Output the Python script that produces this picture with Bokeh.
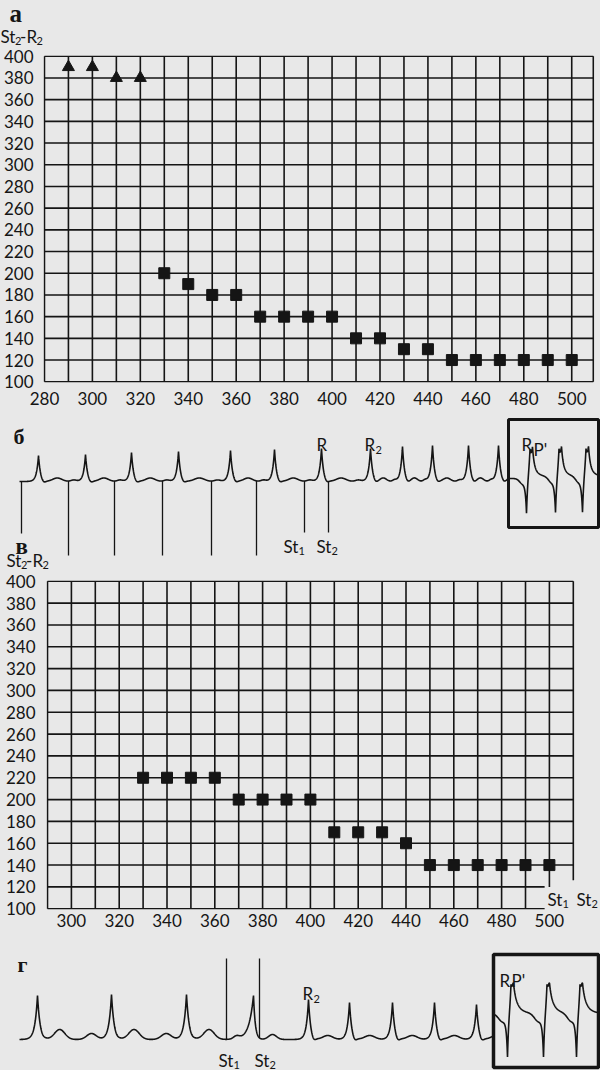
import numpy as np
from bokeh.plotting import figure
from bokeh.models import Range1d, FixedTicker, Label, GlobalInlineStyleSheet
from bokeh.layouts import column
from bokeh.embed import file_html
from bokeh.resources import INLINE

BG = "#e8e8e8"
INK = "#151515"
SANS = "Lato"
SERIF = "Liberation Serif"
W = 600

# ---------------- data ----------------
# panel а : St2-R2 versus St1-St2 (ms)
a_tri_x = [290, 300, 310, 320]
a_tri_y = [390, 390, 380, 380]
a_sq_x = [330, 340, 350, 360, 370, 380, 390, 400, 410, 420, 430, 440,
          450, 460, 470, 480, 490, 500]
a_sq_y = [200, 190, 180, 180, 160, 160, 160, 160, 140, 140, 130, 130,
          120, 120, 120, 120, 120, 120]
a_xticks = [280, 300, 320, 340, 360, 380, 400, 420, 440, 460, 480, 500]
a_xlim = [280, 509]

# panel в
v_sq_x = [330, 340, 350, 360, 370, 380, 390, 400, 410, 420, 430, 440,
          450, 460, 470, 480, 490, 500]
v_sq_y = [220, 220, 220, 220, 200, 200, 200, 200, 170, 170, 170, 160,
          140, 140, 140, 140, 140, 140]
v_xticks = [300, 320, 340, 360, 380, 400, 420, 440, 460, 480, 500]
v_xlim = [290, 510]

yticks = [100, 120, 140, 160, 180, 200, 220, 240, 260, 280, 300, 320,
          340, 360, 380, 400]
ylim = [100, 400]

# ECG б (time axis in px of the strip)
b_base = 481
b_R_x = [38, 85, 131, 178, 230, 274, 321, 370, 402, 432, 468, 498]
b_R_amp = [26, 27, 29, 30, 31, 32, 33, 33, 35, 36, 36, 36]
b_stim_x = [21, 68, 114, 162, 211, 256]
b_stim_end = [533, 555, 555, 555, 555, 555]
b_St_x = [304, 328]
b_box_base = 478
b_paced_x = [526, 555, 582]

# ECG г
g_base = 1039
g_R1_x = [37, 111, 186]
g_R1_amp = [44, 45, 45]
g_P1_amp = [6, 6, 0]
g_cap_x = 253
g_R2_x = [308, 349, 392, 434, 476]
g_R2_amp = [40, 37, 37, 37, 35]
g_St_x = [226, 259]
g_box_base = 1013
g_paced_x = [507, 543, 576]


# ---------------- helpers ----------------
def chart(H, xr, mb):
    left, right, top, bottom = mb
    p = figure(width=W, height=H, x_range=Range1d(*xr), y_range=Range1d(99.3, 400.7),
               output_backend="svg", toolbar_location=None,
               min_border_left=left, min_border_right=right,
               min_border_top=top, min_border_bottom=bottom,
               background_fill_color=BG, border_fill_color=BG)
    p.frame_align = False
    p.outline_line_color = None
    p.xgrid.visible = False
    p.ygrid.visible = False
    for ax in p.axis:
        ax.axis_line_color = None
        ax.major_tick_line_color = None
        ax.minor_tick_line_color = None
        ax.major_tick_in = 0
        ax.major_tick_out = 0
        ax.minor_tick_in = 0
        ax.minor_tick_out = 0
        ax.major_label_text_font = SANS
        ax.major_label_text_font_size = "17px"
        ax.major_label_text_color = INK
    p.yaxis.ticker = FixedTicker(ticks=yticks)
    return p


def conv(xr, top_page, H, mb):
    left, right, top, bottom = mb
    fw = W - left - right
    fh = H - top - bottom
    y0p = top_page + top

    def fx(px):
        return xr[0] + (px - left) * (xr[1] - xr[0]) / fw

    def fy(py):
        return 400.7 - (py - y0p) * (400.7 - 99.3) / fh
    return fx, fy


def txt(p, x, y, s, size, font=SANS, bold=False):
    p.add_layout(Label(x=x, y=y, text=s, text_font=font, text_font_size=f"{size}px",
                       text_font_style="bold" if bold else "normal", text_color=INK,
                       text_align="left", text_baseline="alphabetic"))


def pix_fig(ytop, ybot):
    p = figure(width=W, height=ybot - ytop, x_range=Range1d(0, 600),
               y_range=Range1d(ybot, ytop),
               x_axis_type=None, y_axis_type=None, output_backend="svg",
               toolbar_location=None, min_border_left=0, min_border_right=0,
               min_border_top=0, min_border_bottom=0,
               background_fill_color=BG, border_fill_color=BG)
    p.frame_align = False
    p.outline_line_color = None
    return p


def sinus(t, rx, ramp, w, s_amp, t_amp, t_pos, t_sig, p_amps, p_pos, p_sig):
    v = np.zeros_like(t)
    for i, (r, a) in enumerate(zip(rx, ramp)):
        rr = rx[i + 1] - r if i + 1 < len(rx) else r - rx[i - 1]
        v += a * np.exp(-np.abs(t - r) / w)
        v -= s_amp * np.exp(-0.5 * ((t - r - 5) / 2.0) ** 2)
        v += t_amp * np.exp(-0.5 * ((t - r - t_pos * rr) / (t_sig * rr)) ** 2)
        v += p_amps[i] * np.exp(-0.5 * ((t - r - p_pos * rr) / (p_sig * rr)) ** 2)
    return v


def paced(t, nx, pre, pre_c, pre_s, neg, wn, pos1, pos2, wp, tail, tau):
    v = np.zeros_like(t)
    for n in nx:
        v -= pre * np.exp(-0.5 * ((t - n + pre_c) / pre_s) ** 2)
        v -= neg * np.exp(-np.abs(t - n) / wn)
        v += pos1 * np.exp(-np.abs(t - n - 3.5) / wp)
        v += pos2 * np.exp(-np.abs(t - n - 6.0) / wp)
        d = t - n - 6.0
        v += tail * np.where(d >= 0, np.exp(-np.clip(d, 0, None) / tau),
                             np.exp(-(d / 2.0) ** 2))
    return v


def st_r(p, x, yb, size):
    # "St2-R2" composed of main text and subscripts
    txt(p, x, yb, "St", size)
    txt(p, x + 0.86 * size, yb + 4, "2", 11)
    txt(p, x + 0.86 * size + 5, yb, "-R", size)
    txt(p, x + 1.82 * size + 5, yb + 4, "2", 11)


# ---------------- header а ----------------
ph = pix_fig(0, 47)
txt(ph, 9, 13, "а", 25, SERIF, True)
st_r(ph, 0, 36, 17)

# ---------------- chart а ----------------
HA = 365
mbA = (43, 6, 8, 30)
xrA = (279.6, 509.5)
pa = chart(HA, xrA, mbA)
pa.xaxis.ticker = FixedTicker(ticks=a_xticks)
pa.xaxis.major_label_standoff = 9
pa.yaxis.major_label_standoff = 10

gx = list(range(a_xlim[0], 501, 10)) + [a_xlim[1]]
pa.segment(x0=gx, y0=[ylim[0]] * len(gx), x1=gx, y1=[ylim[1]] * len(gx),
           line_color=INK, line_width=1.6)
pa.segment(x0=[a_xlim[0]] * len(yticks), y0=yticks, x1=[a_xlim[1]] * len(yticks), y1=yticks,
           line_color=INK, line_width=1.6)
pa.scatter(a_tri_x, a_tri_y, marker="triangle", size=12, color=INK)
pa.scatter(a_sq_x, a_sq_y, marker="square", size=11, color=INK)

# ---------------- ECG б (+ header в) ----------------
pb = pix_fig(412, 571)
tb = np.arange(19, 508.01, 0.25)
vb = sinus(tb, b_R_x, b_R_amp, 2.0, 2.0, 3.5, 0.40, 0.10,
           [1.5] * len(b_R_x), 0.75, 0.06)
yb = b_base - vb
pb.line(tb, yb, line_color=INK, line_width=1.6)

tb2 = np.arange(508, 598.01, 0.25)
vb2 = paced(tb2, b_paced_x, 5, 4, 3, 37, 1.3, 25.9, 17.5, 1.8, 8, 10)
pb.line(tb2, b_box_base - vb2, line_color=INK, line_width=1.6)
pb.quad(left=[508], right=[598], top=[419], bottom=[527],
        fill_color=None, line_color=INK, line_width=3)

stim_top = list(np.interp(b_stim_x, tb, yb))
pb.segment(x0=b_stim_x, y0=stim_top, x1=b_stim_x, y1=b_stim_end,
           line_color=INK, line_width=1.3)
st_top = list(np.interp(b_St_x, tb, yb))
pb.segment(x0=b_St_x, y0=st_top, x1=b_St_x, y1=[532, 532],
           line_color=INK, line_width=1.3)

txt(pb, 13, 436, "б", 22, SERIF, True)
txt(pb, 316, 444, "R", 17)
txt(pb, 364, 444, "R", 17)
txt(pb, 375, 449, "2", 11)
txt(pb, 521, 444, "R", 17)
txt(pb, 533, 449, "P'", 17)
txt(pb, 283, 546, "St", 17)
txt(pb, 298, 550, "1", 11)
txt(pb, 316, 546, "St", 17)
txt(pb, 331, 550, "2", 11)
txt(pb, 15, 546, "в", 23, SERIF, True)
st_r(pb, 6, 560, 17)

# ---------------- chart в ----------------
HV = 364
mbV = (46, 0, 9, 26)
xrV = (289.58, 289.58 + 554 / 2.39)
pv = chart(HV, xrV, mbV)
pv.xaxis.ticker = FixedTicker(ticks=v_xticks)
pv.xaxis.major_label_standoff = 4
pv.yaxis.major_label_standoff = 11
fxV, fyV = conv(xrV, 571, HV, mbV)

vx_full = list(range(v_xlim[0], 491, 10))
pv.segment(x0=vx_full, y0=[ylim[0]] * len(vx_full), x1=vx_full, y1=[ylim[1]] * len(vx_full),
           line_color=INK, line_width=1.6)
pv.segment(x0=[500, v_xlim[1]], y0=[120, 126], x1=[500, v_xlim[1]], y1=[ylim[1], ylim[1]],
           line_color=INK, line_width=1.6)
hy_full = [y for y in yticks if y >= 140]
pv.segment(x0=[v_xlim[0]] * len(hy_full), y0=hy_full, x1=[v_xlim[1]] * len(hy_full), y1=hy_full,
           line_color=INK, line_width=1.6)
hy_short = [y for y in yticks if y < 140]
pv.segment(x0=[v_xlim[0]] * len(hy_short), y0=hy_short, x1=[498] * len(hy_short), y1=hy_short,
           line_color=INK, line_width=1.6)
pv.scatter(v_sq_x, v_sq_y, marker="square", size=11, color=INK)

txt(pv, fxV(547), fyV(899), "St", 17)
txt(pv, fxV(562), fyV(903), "1", 11)
txt(pv, fxV(576), fyV(899), "St", 17)
txt(pv, fxV(591), fyV(903), "2", 11)

# ---------------- ECG г ----------------
pg = pix_fig(935, 1070)
tg = np.arange(19, 493.01, 0.25)
vg = sinus(tg, g_R1_x, g_R1_amp, 2.6, 1.0, 10, 0.30, 0.07, g_P1_amp, 0.73, 0.065)
vg += 44 * np.where(tg < g_cap_x, np.exp(-(g_cap_x - tg) / 4.5), np.exp(-(tg - g_cap_x) / 1.8))
vg += 3 * np.exp(-0.5 * ((tg - 236) / 3) ** 2)
vg += 5 * np.exp(-0.5 * ((tg - 272) / 4) ** 2)
vg += sinus(tg, g_R2_x, g_R2_amp, 2.2, 3.0, 4, 0.47, 0.12, [0] * len(g_R2_x), 0.7, 0.1)
yg = g_base - vg
pg.line(tg, yg, line_color=INK, line_width=1.6)

tg2 = np.arange(494, 598.01, 0.25)
vg2 = paced(tg2, g_paced_x, 8, 5, 4, 44, 1.3, 27.8, 4.0, 1.8, 20, 5)
pg.line(tg2, g_box_base - vg2, line_color=INK, line_width=1.6)
pg.quad(left=[493], right=[598], top=[954], bottom=[1067],
        fill_color=None, line_color=INK, line_width=3.5)

g_st_bot = list(np.interp(g_St_x, tg, yg))
pg.segment(x0=g_St_x, y0=[958, 958], x1=g_St_x, y1=g_st_bot,
           line_color=INK, line_width=1.3)

txt(pg, 17, 964, "г", 22, SERIF, True)
txt(pg, 302, 993, "R", 17)
txt(pg, 313, 998, "2", 11)
txt(pg, 499, 980, "R", 17)
txt(pg, 511, 980, "P'", 17)
txt(pg, 218, 1060, "St", 17)
txt(pg, 233, 1064, "1", 11)
txt(pg, 254, 1060, "St", 17)
txt(pg, 269, 1064, "2", 11)

layout = column(ph, pa, pb, pv, pg, spacing=0)
layout.stylesheets = [GlobalInlineStyleSheet(css="html, body { background-color: #e8e8e8; }")]

open("out.html", "w").write(file_html(layout, INLINE))
